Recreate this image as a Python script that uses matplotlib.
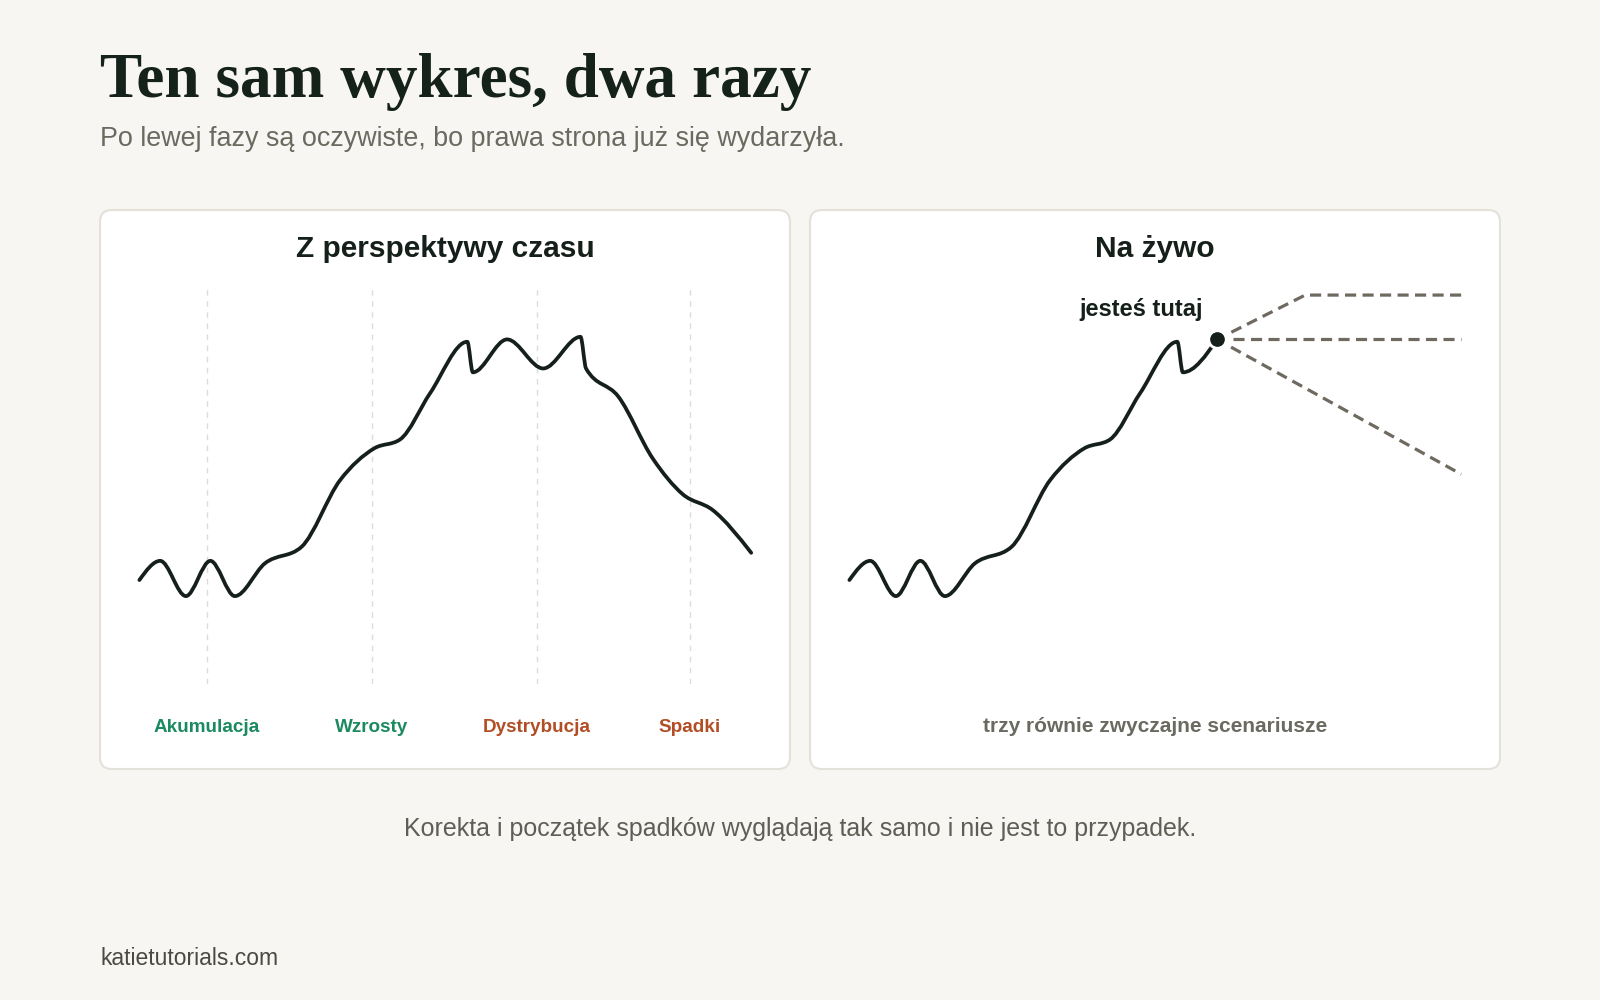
import numpy as np
import matplotlib.pyplot as plt
from matplotlib.patches import FancyBboxPatch, PathPatch
from matplotlib.path import Path

# price path (time 0-100, price 0-100)
t = [0.0, 3.4, 7.6, 11.6, 15.6, 20.5, 26.5, 32.8, 38.4, 42.6, 47.5,
     53.6, 54.5, 60.1, 66.0, 72.1, 73.0, 78.3, 83.9, 88.8, 93.7, 100.0]
price = [6.2, 13.6, 0.0, 13.6, 0.0, 12.6, 19.0, 44.7, 57.0, 60.4, 78.2,
         98.1, 86.3, 99.0, 87.8, 100.0, 87.8, 76.9, 53.1, 39.3, 33.2, 16.7]
now_idx = 13  # "jesteś tutaj"

phases = ["Akumulacja", "Wzrosty", "Dystrybucja", "Spadki"]
phase_t = [11, 38, 65, 90]
phase_colors = ["#1b8a60", "#1b8a60", "#b24e25", "#b24e25"]

# three scenarios from "now"
scen_t = [[60.1, 74.5, 100], [60.1, 100], [60.1, 100]]
scen_p = [[99.0, 116.1, 116.1], [99.0, 99.0], [99.0, 47.0]]

bg = "#f7f6f2"
ink = "#16201b"
W, H = 1600, 1000

plt.rcParams['font.family'] = ['Liberation Sans', 'DejaVu Sans']
plt.rcParams['lines.scale_dashes'] = False


def fx(x):
    return x / W


def fy(y):
    return 1 - y / H


def smooth_path(x, y):
    # monotone cubic (like d3 curveMonotoneX) drawn as bezier path
    x = np.asarray(x, float)
    y = np.asarray(y, float)
    n = len(x)
    h = np.diff(x)
    s = np.diff(y) / h
    m = np.zeros(n)
    for i in range(1, n - 1):
        p = (s[i-1] * h[i] + s[i] * h[i-1]) / (h[i-1] + h[i])
        m[i] = (np.sign(s[i-1]) + np.sign(s[i])) * min(abs(s[i-1]), abs(s[i]), 0.5 * abs(p))
    m[0] = (3 * s[0] - m[1]) / 2
    m[-1] = (3 * s[-1] - m[-2]) / 2
    verts = [(x[0], y[0])]
    codes = [Path.MOVETO]
    for i in range(n - 1):
        d = h[i] / 3
        verts += [(x[i] + d, y[i] + d * m[i]), (x[i+1] - d, y[i+1] - d * m[i+1]), (x[i+1], y[i+1])]
        codes += [Path.CURVE4] * 3
    return Path(verts, codes)


fig = plt.figure(figsize=(16, 10), dpi=100, facecolor=bg)

# header
fig.text(fx(100), fy(97), "Ten sam wykres, dwa razy", family=['Liberation Serif', 'DejaVu Serif'],
         weight='bold', size=45.5, color="#15211b", va='baseline')
fig.text(fx(100), fy(146), "Po lewej fazy są oczywiste, bo prawa strona już się wydarzyła.",
         size=19.4, color="#6b6a5f", va='baseline')

axes = []
for x0, title in [(100, "Z perspektywy czasu"), (810, "Na żywo")]:
    box = FancyBboxPatch((x0 / 100, (H - 769) / 100), 6.9, 5.59,
                         boxstyle="round,pad=0,rounding_size=0.12",
                         transform=fig.dpi_scale_trans, facecolor="white",
                         edgecolor="#e3e1da", linewidth=1.5, zorder=-1)
    fig.add_artist(box)
    fig.text(fx(x0 + 345), fy(257), title, ha='center', va='baseline',
             size=21.5, weight='bold', color=ink)
    ax = fig.add_axes([fx(x0 + 39.4), fy(684), (751.2 - 139.4) / W, (684 - 286) / H])
    ax.set_xlim(0, 100)
    ax.set_ylim(-33.9, 119.6)
    ax.axis('off')
    ax.patch.set_alpha(0)
    ax.set_zorder(2)
    axes.append(ax)

ax1, ax2 = axes

# left: hindsight
for tp, name, c in zip(phase_t, phases, phase_colors):
    ax1.axvline(tp, color="#dcdcdc", lw=1, ls=(0, (4, 4)), zorder=1)
    ax1.text(tp, -0.1206, name, transform=ax1.get_xaxis_transform(), ha='center',
             va='baseline', size=13.6, weight='bold', color=c)
ax1.add_patch(PathPatch(smooth_path(t, price), facecolor='none', edgecolor=ink, lw=2.7,
                        capstyle='round', joinstyle='round', clip_on=False, zorder=3))

# right: live
ax2.add_patch(PathPatch(smooth_path(t[:now_idx + 1], price[:now_idx + 1]), facecolor='none',
                        edgecolor=ink, lw=2.7, capstyle='round', joinstyle='round',
                        clip_on=False, zorder=3))
for st, sp in zip(scen_t, scen_p):
    ax2.plot(st, sp, color="#6e6a60", lw=2.3, ls=(1.1, (8.0, 4.6)), clip_on=False, zorder=2)
ax2.plot(t[now_idx], price[now_idx], 'o', ms=12.6, mfc=ink, mec='white', mew=2.0,
         zorder=5, clip_on=False)
ax2.annotate("jesteś tutaj", (t[now_idx], price[now_idx]), xytext=(-54.7, 16.6),
             textcoords='offset points', ha='center', va='baseline', size=17,
             weight='bold', color=ink)
fig.text(fx(1155), fy(732), "trzy równie zwyczajne scenariusze", ha='center', va='baseline',
         size=15, weight='bold', color="#6b6a60")

# footer
fig.text(0.5, fy(836), "Korekta i początek spadków wyglądają tak samo i nie jest to przypadek.",
         ha='center', va='baseline', size=18, color="#5f5e56")
fig.text(fx(100), fy(965), "katietutorials.com", va='baseline', size=16.5, color="#4a4a44")

fig.savefig("out.png", dpi=100, facecolor=bg)
